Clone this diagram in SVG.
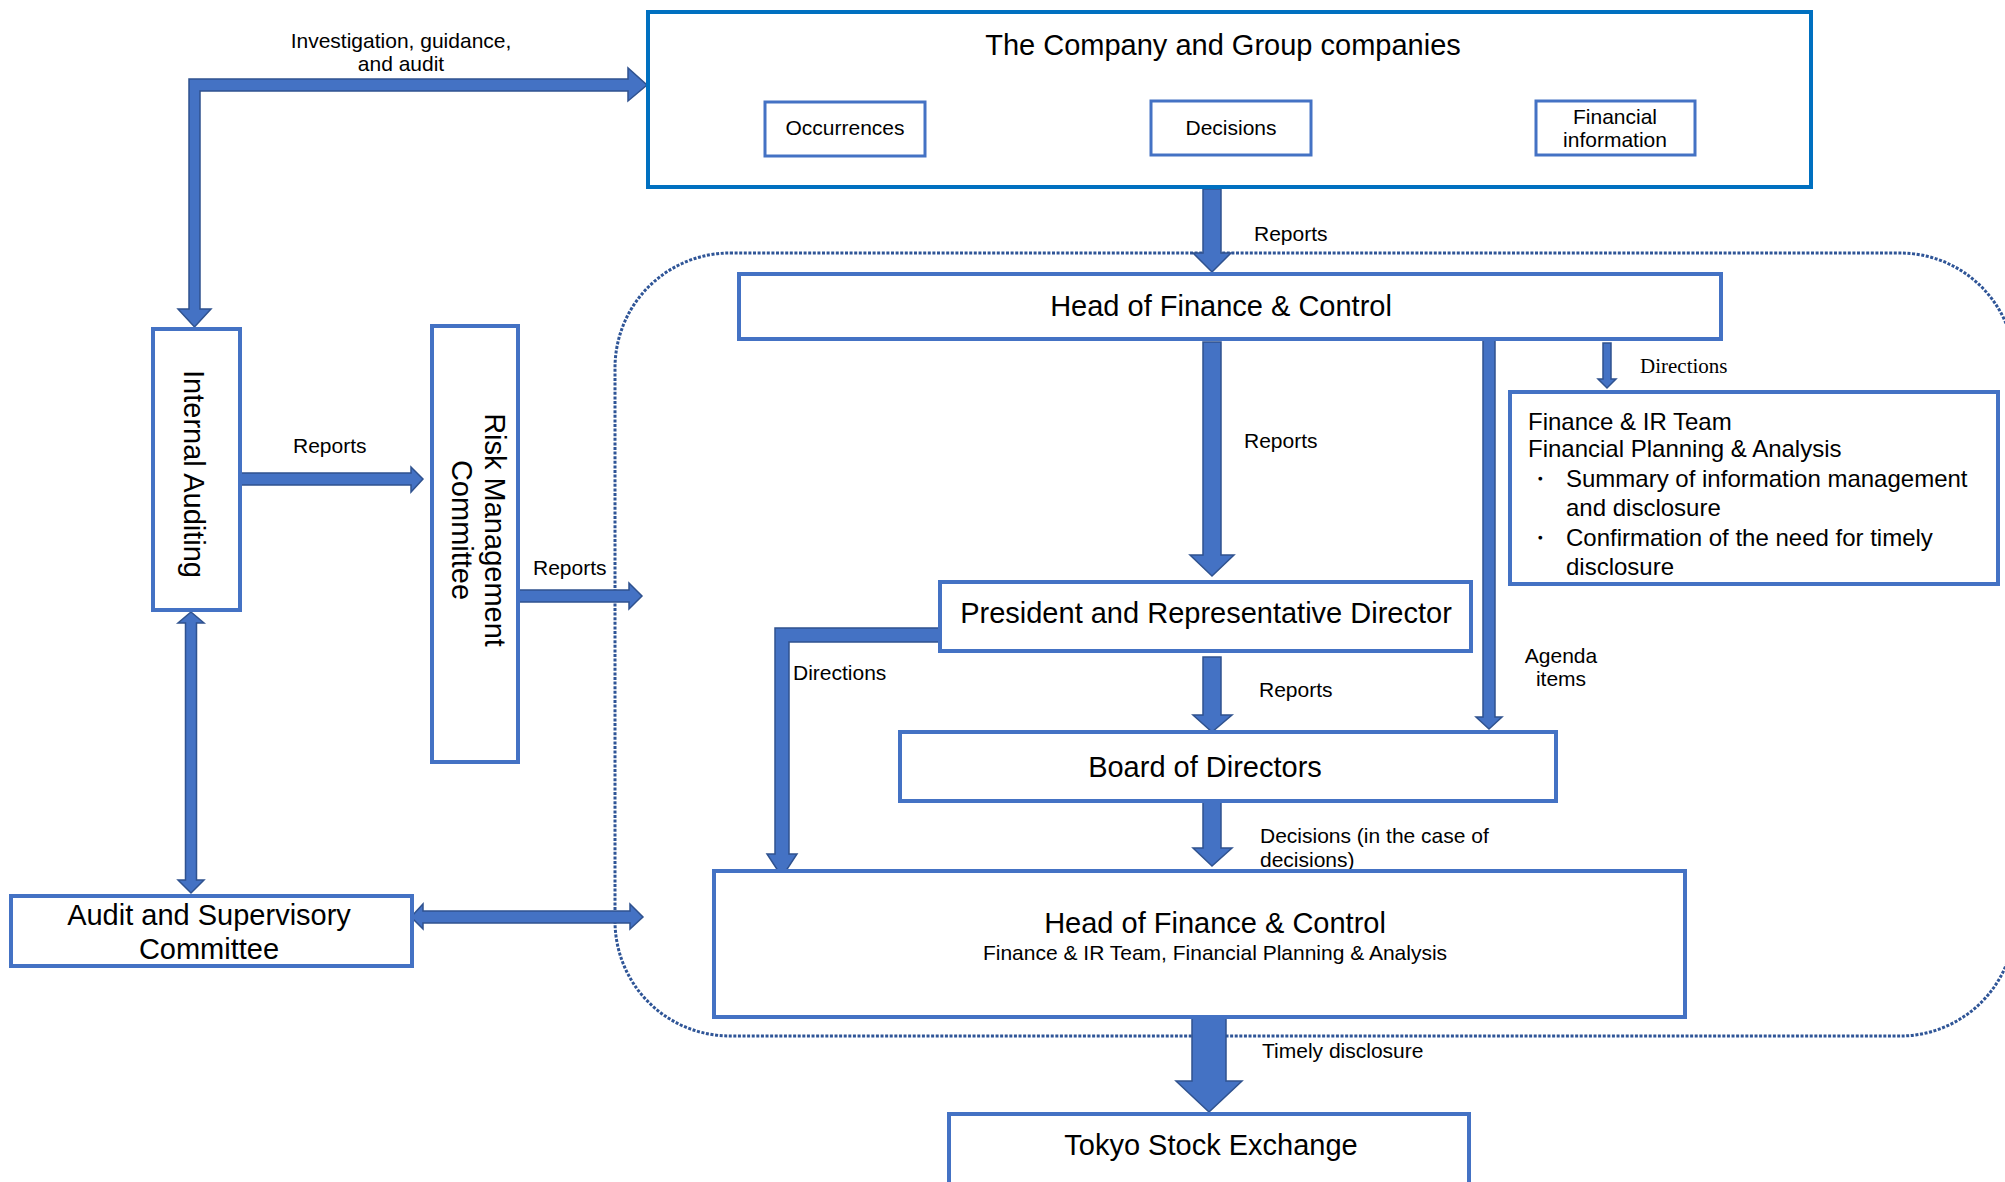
<svg xmlns="http://www.w3.org/2000/svg" width="2005" height="1182" viewBox="0 0 2005 1182">
<defs>
<style>
.box{fill:#fff;stroke:#4472C4;stroke-width:4}
.cbox{fill:#fff;stroke:#0070C0;stroke-width:4}
.sbox{fill:#fff;stroke:#4472C4;stroke-width:3}
.arr{fill:#4472C4;stroke:#2F528F;stroke-width:1.5;stroke-linejoin:miter}
.region{fill:none;stroke:#2F5597;stroke-width:3;stroke-dasharray:3 1.6}
text{font-family:"Liberation Sans",Arial,sans-serif;fill:#000}
.t29{font-size:29px}
.t21{font-size:21px}
.t24{font-size:24px}
.serif{font-family:"Liberation Serif","Times New Roman",serif;font-size:21px}
.mid{text-anchor:middle}
</style>
</defs>
<rect width="2005" height="1182" fill="#fff"/>

<g id="region">
<rect class="region" x="615" y="253" width="1400" height="783" rx="115" ry="115"/>
</g>

<g id="connectors">
<!-- Internal Auditing -> Company (investigation) -->
<polygon class="arr" points="189,309 178,309 194.5,327 211,309 200,309 200,91 628,91 628,101 647,85 628,68 628,79 189,79"/>
<!-- IA -> RMC reports -->
<polygon class="arr" points="240,473 411,473 411,467 423,479 411,492 411,485 240,485"/>
<!-- RMC -> region reports -->
<polygon class="arr" points="518,590 629,590 629,583 642,596 629,609 629,602 518,602"/>
<!-- IA <-> Audit committee -->
<polygon class="arr" points="191,612 204,623 196.5,623 196.5,880 204,880 191,893 178,880 185.5,880 185.5,623 178,623"/>
<!-- Audit committee <-> region -->
<polygon class="arr" points="411,917 423,904 423,911 630,911 630,904 643,917 630,929 630,923 423,923 423,929"/>
<!-- Company -> Head -->
<polygon class="arr" points="1203,189 1221,189 1221,253 1231,253 1212,272 1193,253 1203,253"/>
<!-- Head -> President -->
<polygon class="arr" points="1203,342 1221,342 1221,555 1234,555 1212,576 1190,555 1203,555"/>
<!-- President -> Board -->
<polygon class="arr" points="1203,657 1221,657 1221,715 1232,715 1212,732 1193,715 1203,715"/>
<!-- Board -> Head bottom -->
<polygon class="arr" points="1203,801 1221,801 1221,848 1232,848 1212,866 1193,848 1203,848"/>
<!-- Head bottom -> Tokyo -->
<polygon class="arr" points="1192,1017 1226,1017 1226,1081 1242,1081 1209,1112 1176,1081 1192,1081"/>
<!-- Head -> Board agenda items -->
<polygon class="arr" points="1483,340 1495,340 1495,717 1502,717 1489,729 1476,717 1483,717"/>
<!-- Head -> Finance & IR directions -->
<polygon class="arr" points="1603,343 1611,343 1611,379 1616,379 1607,388 1598,379 1603,379"/>
<!-- President -> Head bottom directions -->
<polygon class="arr" points="940,628 775,628 775,854 767,854 782,877 797,854 789,854 789,642 940,642"/>
</g>

<g id="labels">
<text class="t21 mid" x="401" y="48">Investigation, guidance,</text>
<text class="t21 mid" x="401" y="71">and audit</text>
<text class="t21" x="1254" y="241">Reports</text>
<text class="serif" x="1640" y="373">Directions</text>
<text class="t21" x="1244" y="448">Reports</text>
<text class="t21" x="293" y="453">Reports</text>
<text class="t21" x="533" y="575">Reports</text>
<text class="t21" x="793" y="680">Directions</text>
<text class="t21" x="1259" y="697">Reports</text>
<text class="t21 mid" x="1561" y="663">Agenda</text>
<text class="t21 mid" x="1561" y="686">items</text>
<text class="t21" x="1260" y="843">Decisions (in the case of</text>
<text class="t21" x="1260" y="867">decisions)</text>
<text class="t21" x="1262" y="1058">Timely disclosure</text>
</g>

<g id="company">
<rect class="cbox" x="648" y="12" width="1163" height="175"/>
<text class="t29 mid" x="1223" y="55">The Company and Group companies</text>
</g>
<g id="occurrences">
<rect class="sbox" x="765" y="102" width="160" height="54"/>
<text class="t21 mid" x="845" y="135">Occurrences</text>
</g>
<g id="decisions">
<rect class="sbox" x="1151" y="101" width="160" height="54"/>
<text class="t21 mid" x="1231" y="135">Decisions</text>
</g>
<g id="financial-information">
<rect class="sbox" x="1536" y="101" width="159" height="54"/>
<text class="t21 mid" x="1615" y="124">Financial</text>
<text class="t21 mid" x="1615" y="147">information</text>
</g>

<g id="head-top">
<rect class="box" x="739" y="274" width="982" height="65"/>
<text class="t29 mid" x="1221" y="316">Head of Finance &amp; Control</text>
</g>

<g id="finance-ir-team">
<rect class="box" x="1510" y="392" width="488" height="192"/>
<text class="t24" x="1528" y="430">Finance &amp; IR Team</text>
<text class="t24" x="1528" y="457">Financial Planning &amp; Analysis</text>
<text class="t24" x="1528" y="487">・</text>
<text class="t24" x="1566" y="487">Summary of information management</text>
<text class="t24" x="1566" y="516">and disclosure</text>
<text class="t24" x="1528" y="546">・</text>
<text class="t24" x="1566" y="546">Confirmation of the need for timely</text>
<text class="t24" x="1566" y="575">disclosure</text>
</g>

<g id="internal-auditing">
<rect class="box" x="153" y="329" width="87" height="281"/>
<text class="t29 mid" transform="translate(184,474) rotate(90)">Internal Auditing</text>
</g>

<g id="risk-management-committee">
<rect class="box" x="432" y="326" width="86" height="436"/>
<text class="t29 mid" transform="translate(485,530) rotate(90)">Risk Management</text>
<text class="t29 mid" transform="translate(452,530) rotate(90)">Committee</text>
</g>

<g id="president">
<rect class="box" x="940" y="582" width="531" height="69"/>
<text class="t29 mid" x="1206" y="623">President and Representative Director</text>
</g>

<g id="board">
<rect class="box" x="900" y="732" width="656" height="69"/>
<text class="t29 mid" x="1205" y="777">Board of Directors</text>
</g>

<g id="head-bottom">
<rect class="box" x="714" y="871" width="971" height="146"/>
<text class="t29 mid" x="1215" y="933">Head of Finance &amp; Control</text>
<text class="t21 mid" x="1215" y="960">Finance &amp; IR Team, Financial Planning &amp; Analysis</text>
</g>

<g id="audit-supervisory-committee">
<rect class="box" x="11" y="896" width="401" height="70"/>
<text class="t29 mid" x="209" y="925">Audit and Supervisory</text>
<text class="t29 mid" x="209" y="959">Committee</text>
</g>

<g id="tokyo-stock-exchange">
<rect class="box" x="949" y="1114" width="520" height="90"/>
<text class="t29 mid" x="1211" y="1155">Tokyo Stock Exchange</text>
</g>
</svg>
